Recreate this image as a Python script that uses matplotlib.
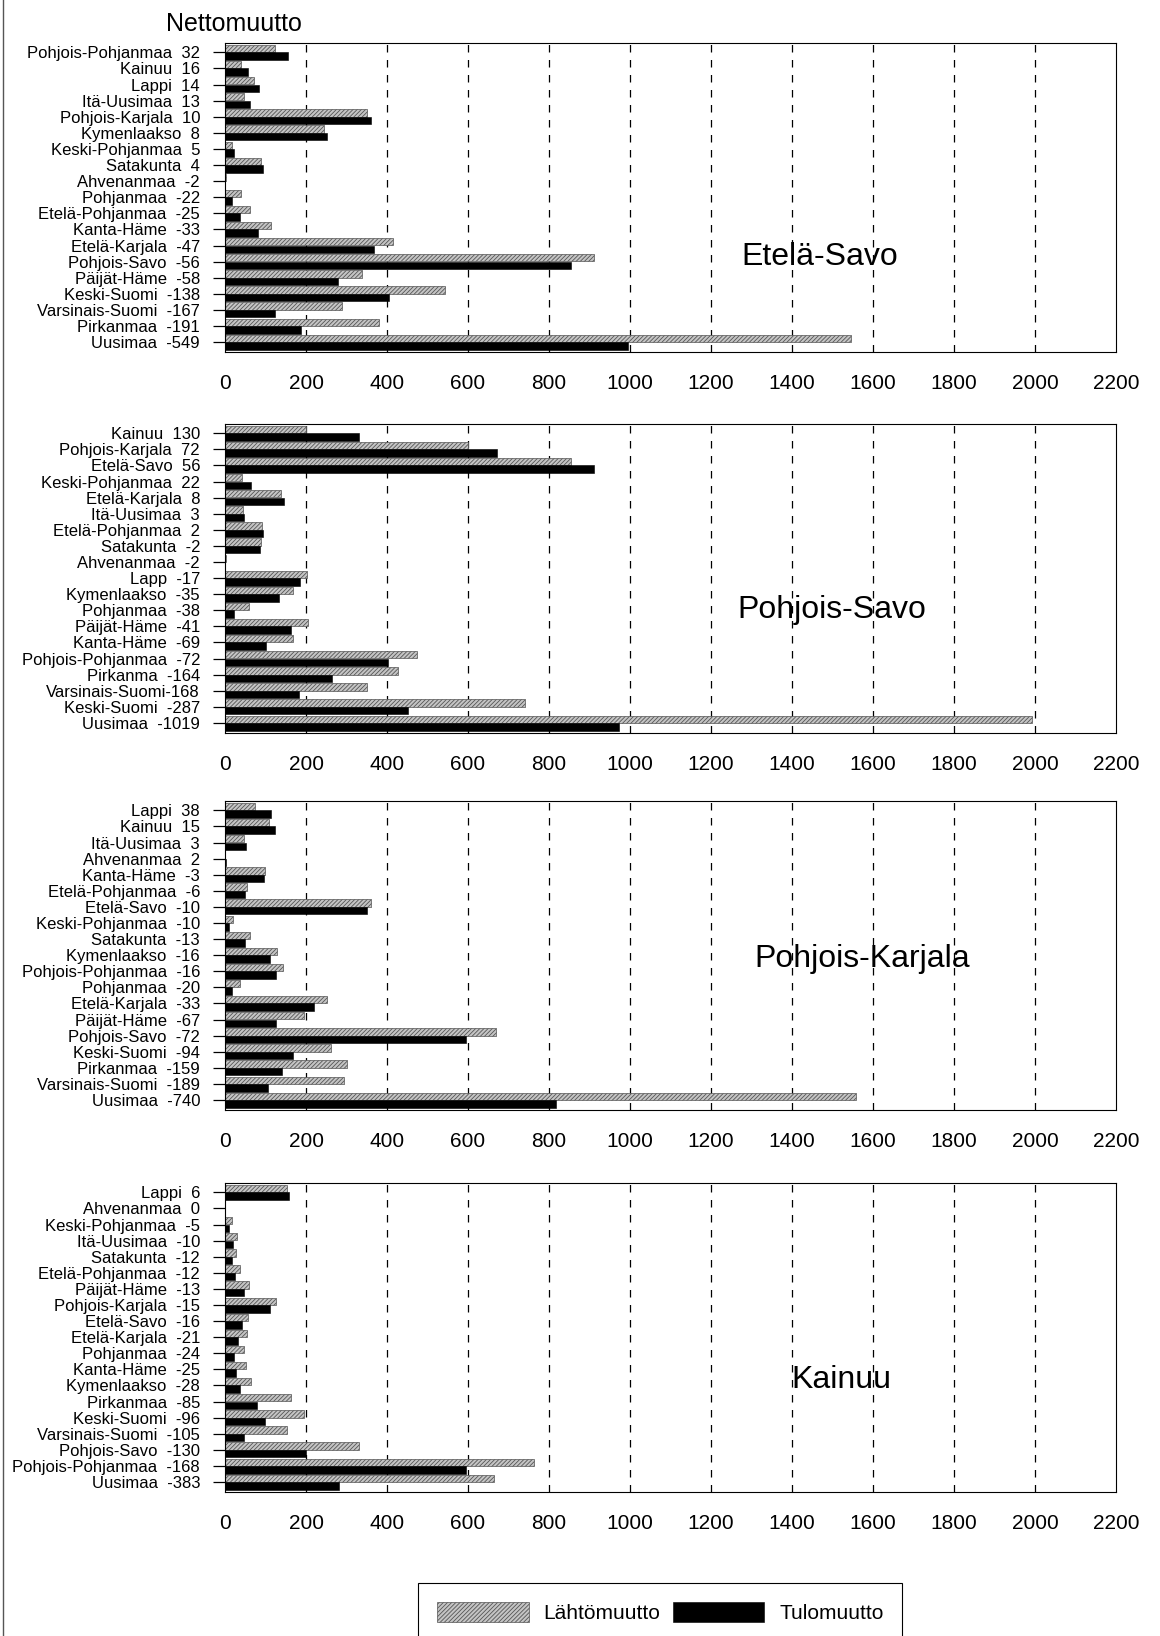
import matplotlib
matplotlib.use('Agg')
import matplotlib.pyplot as plt
from matplotlib.lines import Line2D
import numpy as np

plt.rcParams['font.family'] = ['Liberation Sans', 'DejaVu Sans']
plt.rcParams['hatch.linewidth'] = 0.6

# Etelä-Savo
labels1 = ["Pohjois-Pohjanmaa  32", "Kainuu  16", "Lappi  14", "Itä-Uusimaa  13", "Pohjois-Karjala  10",
           "Kymenlaakso  8", "Keski-Pohjanmaa  5", "Satakunta  4", "Ahvenanmaa  -2", "Pohjanmaa  -22",
           "Etelä-Pohjanmaa  -25", "Kanta-Häme  -33", "Etelä-Karjala  -47", "Pohjois-Savo  -56",
           "Päijät-Häme  -58", "Keski-Suomi  -138", "Varsinais-Suomi  -167", "Pirkanmaa  -191", "Uusimaa  -549"]
lahto1 = [124, 40, 71, 48, 350, 244, 16, 90, 2, 40, 62, 114, 414, 910, 338, 542, 290, 379, 1545]
tulo1 = [156, 56, 85, 61, 360, 252, 21, 94, 0, 18, 37, 81, 367, 854, 280, 404, 123, 188, 996]

# Pohjois-Savo
labels2 = ["Kainuu  130", "Pohjois-Karjala  72", "Etelä-Savo  56", "Keski-Pohjanmaa  22", "Etelä-Karjala  8",
           "Itä-Uusimaa  3", "Etelä-Pohjanmaa  2", "Satakunta  -2", "Ahvenanmaa  -2", "Lapp  -17",
           "Kymenlaakso  -35", "Pohjanmaa  -38", "Päijät-Häme  -41", "Kanta-Häme  -69",
           "Pohjois-Pohjanmaa  -72", "Pirkanma  -164", "Varsinais-Suomi-168", "Keski-Suomi  -287", "Uusimaa  -1019"]
lahto2 = [200, 600, 855, 42, 138, 44, 92, 89, 2, 202, 168, 60, 205, 169, 474, 428, 350, 740, 1992]
tulo2 = [330, 672, 911, 64, 146, 47, 94, 87, 0, 185, 133, 22, 164, 100, 402, 264, 182, 453, 973]

# Pohjois-Karjala
labels3 = ["Lappi  38", "Kainuu  15", "Itä-Uusimaa  3", "Ahvenanmaa  2", "Kanta-Häme  -3", "Etelä-Pohjanmaa  -6",
           "Etelä-Savo  -10", "Keski-Pohjanmaa  -10", "Satakunta  -13", "Kymenlaakso  -16",
           "Pohjois-Pohjanmaa  -16", "Pohjanmaa  -20", "Etelä-Karjala  -33", "Päijät-Häme  -67",
           "Pohjois-Savo  -72", "Keski-Suomi  -94", "Pirkanmaa  -159", "Varsinais-Suomi  -189", "Uusimaa  -740"]
lahto3 = [75, 109, 48, 0, 98, 55, 360, 20, 62, 128, 142, 36, 252, 194, 668, 262, 300, 294, 1558]
tulo3 = [113, 124, 51, 2, 95, 49, 350, 10, 49, 112, 126, 16, 219, 127, 596, 168, 141, 105, 818]

# Kainuu
labels4 = ["Lappi  6", "Ahvenanmaa  0", "Keski-Pohjanmaa  -5", "Itä-Uusimaa  -10", "Satakunta  -12",
           "Etelä-Pohjanmaa  -12", "Päijät-Häme  -13", "Pohjois-Karjala  -15", "Etelä-Savo  -16",
           "Etelä-Karjala  -21", "Pohjanmaa  -24", "Kanta-Häme  -25", "Kymenlaakso  -28", "Pirkanmaa  -85",
           "Keski-Suomi  -96", "Varsinais-Suomi  -105", "Pohjois-Savo  -130", "Pohjois-Pohjanmaa  -168",
           "Uusimaa  -383"]
lahto4 = [152, 0, 16, 29, 28, 37, 60, 125, 57, 54, 46, 52, 64, 164, 194, 153, 331, 763, 665]
tulo4 = [158, 0, 11, 19, 16, 25, 47, 110, 41, 33, 22, 27, 36, 79, 98, 48, 201, 595, 282]

regions = ['Etelä-Savo', 'Pohjois-Savo', 'Pohjois-Karjala', 'Kainuu']
x_ticks = list(range(0, 2201, 200))

panels = [
    (labels1, lahto1, tulo1, 0.7848, 0.668, 0.307),
    (labels2, lahto2, tulo2, 0.552, 0.681, 0.398),
    (labels3, lahto3, tulo3, 0.3215, 0.715, 0.49),
    (labels4, lahto4, tulo4, 0.088, 0.692, 0.362),
]

fig = plt.figure(figsize=(11.6, 16.36), dpi=100)

bars = None
for i, (labels, lahto, tulo, bottom, tx, ty) in enumerate(panels):
    ax = fig.add_axes([0.194, bottom, 0.768, 0.1889])
    y = np.arange(len(labels))
    b1 = ax.barh(y - 0.235, lahto, height=0.45, color='#c4c4c4', edgecolor='#555555',
                 hatch='////////', linewidth=0.5, label='Lähtömuutto')
    b2 = ax.barh(y + 0.235, tulo, height=0.47, color='black', edgecolor='black',
                 linewidth=0.4, label='Tulomuutto')
    if bars is None:
        bars = (b1, b2)
    for g in x_ticks[1:-1]:
        ax.axvline(g, color='black', lw=0.9, ls=(0, (6, 6)), zorder=0)
    ax.set_xlim(0, 2200)
    ax.set_ylim(18.62, -0.58)
    ax.set_xticks(x_ticks)
    ax.set_yticks(y)
    ax.set_yticklabels(labels, fontsize=12)
    ax.tick_params(axis='y', direction='out', length=9, width=0.9, pad=9)
    ax.tick_params(axis='x', direction='in', length=0, pad=16, labelsize=15)
    for sp in ax.spines.values():
        sp.set_linewidth(0.8)
    ax.text(tx, ty, regions[i], transform=ax.transAxes, fontsize=23,
            ha='center', va='center')

fig.text(166 / 1160, 1 - 24 / 1636, 'Nettomuutto', fontsize=18, ha='left', va='center')

# left page border from the scan
fig.add_artist(Line2D([0.003, 0.003], [0, 1], color='#555555', lw=1.0))

leg = fig.legend(bars, ['Lähtömuutto', 'Tulomuutto'], ncol=2, loc='upper left',
                 bbox_to_anchor=(408 / 1160, 1 - 1573 / 1636), fontsize=15,
                 handlelength=4.4, handleheight=1.1, handletextpad=0.7, columnspacing=0.6,
                 borderpad=0.9, fancybox=False, edgecolor='black', framealpha=1)
leg.get_frame().set_linewidth(0.8)

fig.savefig('out.png', dpi=100)
